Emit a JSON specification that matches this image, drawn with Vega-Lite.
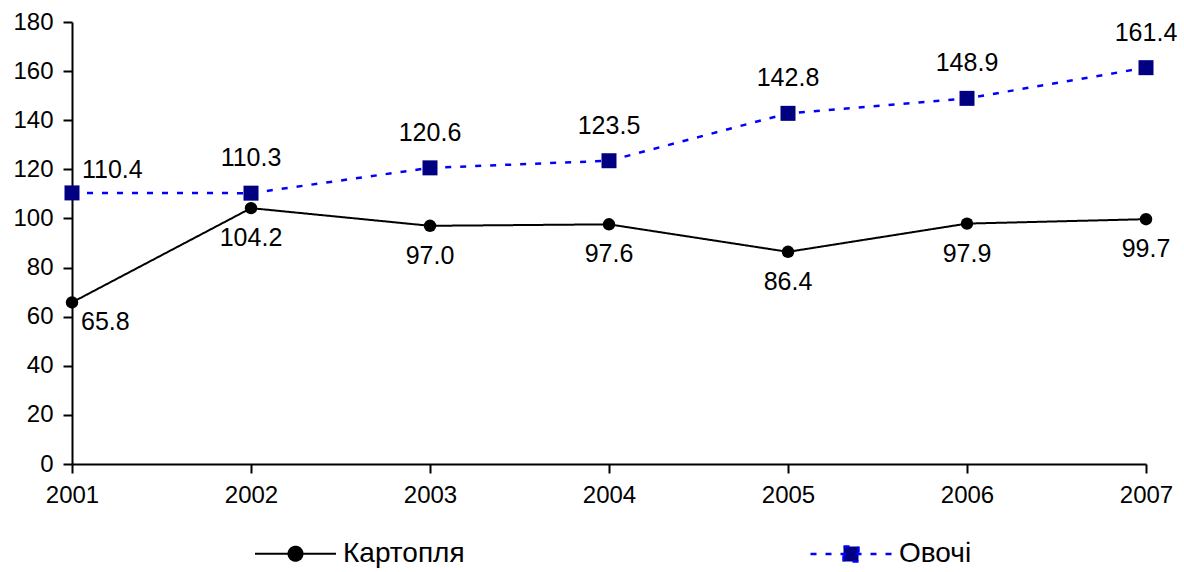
{
  "$schema": "https://vega.github.io/schema/vega-lite/v6.json",
  "width": 1074,
  "height": 442,
  "autosize": {"type": "none"},
  "padding": {"left": 72, "top": 22, "right": 38, "bottom": 108},
  "background": "white",
  "config": {
    "view": {"stroke": null},
    "font": "Liberation Sans",
    "axis": {
      "grid": false,
      "domainColor": "black",
      "domainWidth": 2,
      "tickColor": "black",
      "tickWidth": 2,
      "tickSize": 9,
      "labelFont": "Liberation Sans",
      "labelFontSize": 24,
      "labelColor": "black",
      "title": null
    }
  },
  "data": {
    "values": [
      {"year": "2001", "series": "Картопля", "value": 65.8},
      {"year": "2002", "series": "Картопля", "value": 104.2},
      {"year": "2003", "series": "Картопля", "value": 97.0},
      {"year": "2004", "series": "Картопля", "value": 97.6},
      {"year": "2005", "series": "Картопля", "value": 86.4},
      {"year": "2006", "series": "Картопля", "value": 97.9},
      {"year": "2007", "series": "Картопля", "value": 99.7},
      {"year": "2001", "series": "Овочі", "value": 110.4},
      {"year": "2002", "series": "Овочі", "value": 110.3},
      {"year": "2003", "series": "Овочі", "value": 120.6},
      {"year": "2004", "series": "Овочі", "value": 123.5},
      {"year": "2005", "series": "Овочі", "value": 142.8},
      {"year": "2006", "series": "Овочі", "value": 148.9},
      {"year": "2007", "series": "Овочі", "value": 161.4}
    ]
  },
  "encoding": {
    "x": {
      "field": "year",
      "type": "ordinal",
      "scale": {"type": "point", "padding": 0},
      "axis": {"labelAngle": 0, "labelPadding": 10}
    },
    "y": {
      "field": "value",
      "type": "quantitative",
      "scale": {"domain": [0, 180], "nice": false, "zero": true},
      "axis": {"values": [0, 20, 40, 60, 80, 100, 120, 140, 160, 180], "labelPadding": 10}
    }
  },
  "layer": [
    {
      "mark": {"type": "line"},
      "encoding": {
        "stroke": {
          "field": "series",
          "type": "nominal",
          "scale": {"domain": ["Картопля", "Овочі"], "range": ["black", "#0000FF"]},
          "legend": {
            "title": null,
            "orient": "none",
            "legendX": 182,
            "legendY": 490,
            "direction": "horizontal",
            "symbolType": "M-1,0L1,0M-0.173,0A0.173,0.173,0,1,1,0.173,0A0.173,0.173,0,1,1,-0.173,0Z",
            "symbolSize": 6561,
            "symbolStrokeWidth": 2,
            "symbolOffset": 0,
            "labelOffset": 6,
            "labelFont": "Liberation Sans",
            "labelFontSize": 28,
            "labelColor": "black",
            "columnPadding": 340,
            "padding": 0,
            "encode": {
              "symbols": {
                "update": {
                  "shape": {"signal": "datum.value === 'Картопля' ? 'M-1,0L1,0M-0.173,0A0.173,0.173,0,1,1,0.173,0A0.173,0.173,0,1,1,-0.173,0Z' : 'M-1,0L1,0M-0.185,-0.185L0.185,-0.185L0.185,0.185L-0.185,0.185Z'"},
                  "size": {"value": 6561},
                  "fill": {"signal": "datum.value === 'Картопля' ? 'black' : '#000080'"},
                  "strokeDash": {"signal": "datum.value === 'Овочі' ? [6, 9] : [1, 0]"},
                  "strokeWidth": {"signal": "datum.value === 'Овочі' ? 2.5 : 2"},
                  "opacity": {"value": 1}
                }
              }
            }
          }
        },
        "strokeWidth": {
          "field": "series",
          "type": "nominal",
          "scale": {"domain": ["Картопля", "Овочі"], "range": [2, 2.5]},
          "legend": null
        },
        "strokeDash": {
          "field": "series",
          "type": "nominal",
          "scale": {"domain": ["Картопля", "Овочі"], "range": [[1, 0], [6, 9]]},
          "legend": null
        }
      }
    },
    {
      "transform": [{"filter": "datum.series === 'Картопля'"}],
      "mark": {"type": "point", "shape": "circle", "size": 155, "filled": true, "opacity": 1, "color": "black", "strokeWidth": 0}
    },
    {
      "transform": [{"filter": "datum.series === 'Овочі'"}],
      "mark": {"type": "point", "shape": "square", "size": 225, "filled": true, "opacity": 1, "color": "#000080", "strokeWidth": 0}
    },
    {
      "transform": [{"filter": "datum.series === 'Картопля' && datum.year !== '2001'"}],
      "mark": {"type": "text", "dy": 30, "baseline": "middle", "align": "center", "fontSize": 25, "font": "Liberation Sans", "color": "black"},
      "encoding": {"text": {"field": "value", "type": "quantitative", "format": ".1f"}}
    },
    {
      "transform": [{"filter": "datum.series === 'Картопля' && datum.year === '2001'"}],
      "mark": {"type": "text", "dy": 20, "dx": 9, "baseline": "middle", "align": "left", "fontSize": 25, "font": "Liberation Sans", "color": "black"},
      "encoding": {"text": {"field": "value", "type": "quantitative", "format": ".1f"}}
    },
    {
      "transform": [{"filter": "datum.series === 'Овочі' && datum.year !== '2001'"}],
      "mark": {"type": "text", "dy": -35, "baseline": "middle", "align": "center", "fontSize": 25, "font": "Liberation Sans", "color": "black"},
      "encoding": {"text": {"field": "value", "type": "quantitative", "format": ".1f"}}
    },
    {
      "transform": [{"filter": "datum.series === 'Овочі' && datum.year === '2001'"}],
      "mark": {"type": "text", "dy": -23, "dx": 10, "baseline": "middle", "align": "left", "fontSize": 25, "font": "Liberation Sans", "color": "black"},
      "encoding": {"text": {"field": "value", "type": "quantitative", "format": ".1f"}}
    }
  ]
}
